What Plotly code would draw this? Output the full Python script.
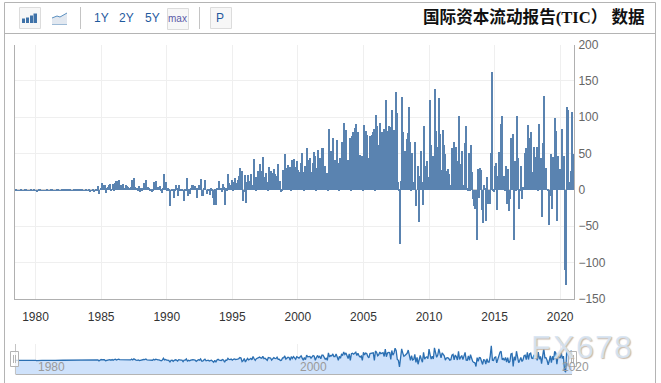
import plotly.graph_objects as go
import pandas as pd

W, H = 661, 383

y1978 = [0.3, 0.6, -0.3, 0.5, 0.3, 0.6, -0.5]
y1979 = [0.5, 0.3, 0.6, 1, -0.3, 0.5, 0.3, 0.6, 0.5, -0.3, 0.6, 0.3]
y1980 = [0.5, -1.5, 0.5, 1.5, 0.6, 0.3, 0.5, -0.6, 0.3, 0.5, 0.6, 0.3]
y1981 = [0.3, 0.5, 0.6, 1.5, 0.5, 0.3, 0.3, 1.5, 0.6, -0.3, 0.5, 0.3]
y1982 = [0.6, 1.5, 1.5, 1.5, 0.6, 0.5, 1.5, 0.6, 0.5, 0.3, -0.3, 0.6]
y1983 = [1.5, 1.5, 0.6, 0.5, 1.5, 1.5, 0.6, 0.3, 0.5, -0.3, 0.6, 0.3]
y1984 = [0.6, -1, 0.5, 0.3, 1.5, -1, 0.3, 0.6, 2, 6, -5, 4]
y1985 = [10, 7, 6, 7, -3, 3, 5, 7, 9, 1, 9, 1]
y1986 = [10, 13, 4, 13, 14, 8, 7, 8, 9, 3, 8, 6]
y1987 = [5, 4, 3, 5, 14, 5, 17, 5, 3, 1, 6, -2]
y1988 = [3, 1, 4, 10, 8, 15, 5, 3, 2, 1, -2, 2]
y1989 = [12, 4, 13, 5, 5, 6, 2, -4, 3, 23, 5, 11]
y1990 = [2, 3, 1, -21, 1, 2, -10, 1, 7, 3, -7, 8]
y1991 = [1, 2, 2, -14, 2, 2, 17, -7, 1, -5, 3, 8]
y1992 = [7, 6, 3, -10, 3, 8, 3, 16, -8, -8, 4, 14]
y1993 = [-5, 2, 2, -6, 3, 2, -10, -20, 2, -20, 4, 13]
y1994 = [4, 3, -2, 9, 5, -20, 3, 2, 22, 10, 8, 15]
y1995 = [2, 12, 17, 10, 8, 14, 20, 31, 27, -14, -2, 21]
y1996 = [-17, 11, 21, 5, 13, 22, 7, 43, 18, 1, 19, 27]
y1997 = [27, 37, 27, 23, 46, 19, 24, 12, 1, 32, 27, 27]
y1998 = [3, 24, 30, 22, 20, 36, 12, 13, -2, 2, 28, 28]
y1999 = [50, 15, 31, 35, 32, 1, 42, 22, 43, 32, 13, 40]
y2000 = [28, 25, 38, 51, 25, 1, 33, 8, 59, 39, 42, 44]
y2001 = [25, 38, 53, 47, 1, 31, 55, 33, 45, 17, 59, 58]
y2002 = [33, 14, 24, 1, 84, 38, 54, 51, 72, 42, 42, 70]
y2003 = [38, 1, 45, 24, 67, 58, 93, 66, 83, 42, 20, 72]
y2004 = [1, 75, 80, 69, 86, 91, 54, 80, 49, 37, 48, 1]
y2005 = [90, 61, 82, 76, 45, 27, 75, 76, 80, 84, 1, 104]
y2006 = [89, 51, 62, 93, 75, 81, 85, 43, 125, 41, 82, 89]
y2007 = [87, 12, 110, 58, 83, 135, 107, 11, 1, -73, 13, 128]
y2008 = [81, 46, 54, 71, 79, 115, 66, 1, 52, 5, 12, 66]
y2009 = [-22, 34, -43, 20, 54, 11, -20, 89, 14, 33, 40, 18]
y2010 = [125, 62, 14, 47, 16, 140, 82, 35, 60, 127, 77, 28]
y2011 = [83, 62, 50, 3, 27, 30, 23, 3, 8, 58, 67, 7]
y2012 = [60, 40, 5, 102, 10, 36, 54, 8, 65, 89, 3, 1]
y2013 = [51, 2, 63, 25, -12, -22, -26, -68, 30, -10, 31, 28]
y2014 = [-27, -45, 7, 3, -42, 18, -18, -18, 51, 163, 1, -1]
y2015 = [33, 38, -27, 20, 53, 92, 102, 7, 20, 1, 33, -18]
y2016 = [30, -28, -12, 72, 77, -68, 40, 1, 102, 44, -26, 1]
y2017 = [33, -12, 5, 52, 58, 8, 90, 10, 72, 80, 25, 22]
y2018 = [60, 46, 60, 1, 92, 13, 44, -36, 65, 130, 30, 31]
y2019 = [1, -48, -7, 50, -26, 46, 4, 100, 82, -42, 48, 30]
y2020 = [26, 85, 20, 47, -110, -130, 115, 111, 11, 27, 108, 50]

series = (y1978 + y1979 + y1980 + y1981 + y1982 + y1983 + y1984 + y1985 + y1986 + y1987
          + y1988 + y1989 + y1990 + y1991 + y1992 + y1993 + y1994 + y1995 + y1996 + y1997
          + y1998 + y1999 + y2000 + y2001 + y2002 + y2003 + y2004 + y2005 + y2006 + y2007
          + y2008 + y2009 + y2010 + y2011 + y2012 + y2013 + y2014 + y2015 + y2016 + y2017
          + y2018 + y2019 + y2020)
dates = pd.date_range("1978-06-01", periods=len(series), freq="MS")
navigator_floor = [-151] * len(series)

title_text = "国际资本流动报告(TIC） 数据"
range_buttons = ["1Y", "2Y", "5Y"]
y_ticks = [200, 150, 100, 50, 0, -50, -100, -150]
nav_labels = ["1980", "2000", "2020"]
x_range = ["1978-05-25", "2021-01-20"]


def px(x):
    return x / W


def py(y):
    return 1 - y / H


fig = go.Figure()
fig.add_trace(go.Bar(x=dates, y=series, marker=dict(color="#5a83b0", line=dict(width=0)),
                     xaxis="x", yaxis="y", hoverinfo="skip"))
fig.add_trace(go.Scatter(x=dates, y=navigator_floor, mode="lines", line=dict(width=0),
                         xaxis="x2", yaxis="y2", hoverinfo="skip"))
fig.add_trace(go.Scatter(x=dates, y=series, mode="lines", fill="tonexty", fillcolor="#cfe2fb",
                         line=dict(color="#2b6fb2", width=1.3), xaxis="x2", yaxis="y2",
                         hoverinfo="skip"))

shapes = []


def line(x0, y0, x1, y1, color="#b4b4b4", width=1):
    shapes.append(dict(type="line", xref="paper", yref="paper", x0=px(x0), y0=py(y0),
                       x1=px(x1), y1=py(y1), line=dict(color=color, width=width)))


def rect(x0, y0, x1, y1, fill, border="#dcdcdc", width=1):
    shapes.append(dict(type="rect", xref="paper", yref="paper", x0=px(x0), y0=py(y0),
                       x1=px(x1), y1=py(y1), fillcolor=fill, line=dict(color=border, width=width)))


# outer frame
line(4.5, 2.5, 655.5, 2.5)
line(4.5, 2.5, 4.5, 383)
line(655.5, 2.5, 655.5, 383)
line(4.5, 33.5, 655.5, 33.5)
# toolbar
rect(19.5, 7.5, 40.5, 28.5, "#f7f7f7")
for a, b, t in [(22, 25, 18.5), (26, 29, 17.5), (30, 33, 15.5), (33.5, 37, 13.5)]:
    shapes.append(dict(type="rect", xref="paper", yref="paper", x0=px(a), x1=px(b), y0=py(t), y1=py(23),
                       fillcolor="#3f72a8", line=dict(width=0)))
shapes.append(dict(type="path", xref="paper", yref="paper",
                   path=f"M {px(52)} {py(24)} L {px(52)} {py(18)} L {px(57)} {py(16)} L {px(60)} {py(17)} L {px(67)} {py(13)} L {px(67)} {py(24)} Z",
                   fillcolor="#e2e8f0", line=dict(width=0)))
shapes.append(dict(type="path", xref="paper", yref="paper",
                   path=f"M {px(52)} {py(18)} L {px(57)} {py(16)} L {px(60)} {py(17)} L {px(67)} {py(13)}",
                   line=dict(color="#5a8fc0", width=1)))
line(52, 24.5, 67, 24.5, "#9dbad6")
line(80.5, 7, 80.5, 29, "#c4c4c4")
line(199.5, 7, 199.5, 29, "#c4c4c4")
rect(167.5, 8.5, 188.5, 29.5, "#f7f7f7")
rect(210.5, 7.5, 231.5, 28.5, "#f7f7f7")
# navigator furniture
line(15.5, 344, 15.5, 374, "#c4c4c4")
line(15.5, 374.5, 572, 374.5, "#b4b4b4")
for hx0, hx1 in [(10.5, 18.5), (568.5, 576.5)]:
    rect(hx0, 351.5, hx1, 366.5, "rgba(255,255,255,0.75)", "#b4b4b4")
    line(hx0 + 3, 355, hx0 + 3, 363, "#b4b4b4")
    line(hx0 + 5, 355, hx0 + 5, 363, "#b4b4b4")

ann = []
ann.append(dict(text=title_text, xref="paper", yref="paper", x=px(646.5), y=py(17.5), xanchor="right",
                yanchor="middle", showarrow=False,
                font=dict(family="Liberation Serif, Noto Sans CJK SC", size=16.6, color="#111", weight="bold")))
for t, cx in zip(range_buttons, [101.5, 126.7, 152.3]):
    ann.append(dict(text=t, xref="paper", yref="paper", x=px(cx), y=py(18), xanchor="center", yanchor="middle",
                    showarrow=False, font=dict(family="Liberation Sans", size=12, color="#1f5a9e")))
ann.append(dict(text="max", xref="paper", yref="paper", x=px(177.7), y=py(18.5), xanchor="center", yanchor="middle",
                showarrow=False, font=dict(family="Liberation Sans", size=10, color="#5a5aa8")))
ann.append(dict(text="P", xref="paper", yref="paper", x=px(220.3), y=py(18), xanchor="center", yanchor="middle",
                showarrow=False, font=dict(family="Liberation Sans", size=12, color="#1f5a9e")))
for lab in nav_labels:
    ann.append(dict(text=lab, xref="x2", yref="paper", x=f"{lab}-01-01", y=py(366.5), xanchor="left",
                    yanchor="middle", xshift=0, showarrow=False,
                    font=dict(family="Liberation Sans", size=12, color="#9a9a9a")))
for ch, cx in zip("FX678", [541, 563, 585, 604, 622.5]):
    ann.append(dict(text=ch, xref="paper", yref="paper", x=px(cx), y=py(347), xanchor="center", yanchor="middle",
                    showarrow=False,
                    font=dict(family="Liberation Sans", size=32, color="rgba(214,228,243,0.9)",
                              shadow="1px 1px 1px #c4b2a2")))

fig.update_layout(
    width=W, height=H, autosize=False, showlegend=False, bargap=0,
    margin=dict(l=0, r=0, t=0, b=0, pad=0),
    paper_bgcolor="#fff", plot_bgcolor="#fff",
    shapes=shapes, annotations=ann,
    xaxis=dict(domain=[px(14.5), px(574)], range=x_range, type="date", dtick="M60", tick0="1980-01-01",
               tickformat="%Y", showgrid=True, gridcolor="#efefef", gridwidth=1, showline=True,
               linecolor="#b0b0b0", ticks="outside", ticklen=7, tickcolor="rgba(0,0,0,0)",
               tickfont=dict(family="Liberation Sans", size=12, color="#333"), anchor="y", zeroline=False,
               automargin=False),
    yaxis=dict(domain=[py(299), py(44.5)], range=[-150, 200], side="right", tickvals=y_ticks,
               showgrid=True, gridcolor="#efefef", showline=True, mirror=True, linecolor="#b0b0b0",
               ticks="outside", ticklen=1, tickcolor="rgba(0,0,0,0)",
               zeroline=True, zerolinecolor="#d0d0d0", zerolinewidth=1,
               tickfont=dict(family="Liberation Sans", size=12, color="#666"), anchor="x", automargin=False),
    xaxis2=dict(domain=[px(14.5), px(574)], range=x_range, type="date", dtick="M240", tick0="1980-01-01",
                showticklabels=False, showgrid=True, gridcolor="#efefef", zeroline=False, anchor="y2",
                automargin=False),
    yaxis2=dict(domain=[py(374), py(344)], range=[-151, 182], showticklabels=False, showgrid=False,
                zeroline=False, showline=False, anchor="x2", automargin=False),
)

fig.write_html("out.html", config={"displayModeBar": False},
               post_script="document.body.style.margin='0';document.body.style.overflow='hidden';")
